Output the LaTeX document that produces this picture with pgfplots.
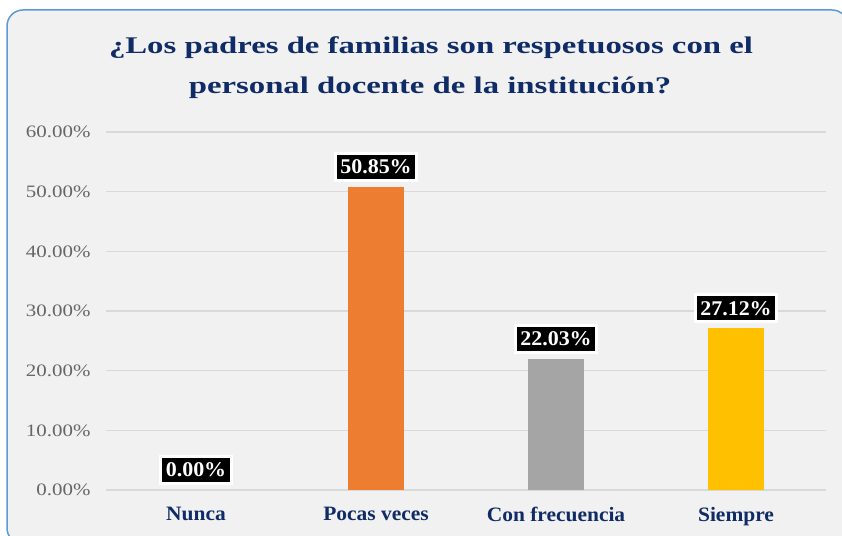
\documentclass[border=0pt]{standalone}
\usepackage{pgfplots}
\pgfplotsset{compat=1.18}
\usepackage{fontspec}
\setmainfont{Liberation Serif}
\newfontfamily\tickfont[FakeStretch=1.2]{Liberation Serif}
\newfontfamily\titlefont[FakeStretch=1.37]{Liberation Serif}
\newfontfamily\labfont[FakeStretch=1.05]{Liberation Serif}
\definecolor{navy}{HTML}{102C66}
\definecolor{bgc}{HTML}{F1F1F1}
\definecolor{framec}{HTML}{5B9BD5}
\definecolor{gridc}{HTML}{D9D9D9}
\definecolor{tickc}{HTML}{666666}
\definecolor{c2}{HTML}{ED7D31}
\definecolor{c3}{HTML}{A5A5A5}
\definecolor{c4}{HTML}{FFC000}
\begin{document}
\begin{tikzpicture}[x=1bp,y=1bp]
\useasboundingbox (0,0) rectangle (842,536);
\fill[white] (0,0) rectangle (842,536);
\begin{scope}
\clip (0,0) rectangle (842,536);
\draw[fill=bgc, draw=framec, line width=1.5bp, rounded corners=16bp] (7,-8) rectangle (848,526);
\end{scope}
\node[font=\titlefont\bfseries\fontsize{24}{24}\selectfont, text=navy, anchor=center] at (431,488) {¿Los padres de familias son respetuosos con el};
\node[font=\titlefont\bfseries\fontsize{24}{24}\selectfont, text=navy, anchor=center] at (430,448) {personal docente de la institución?};
\begin{axis}[
  at={(106bp,46bp)}, anchor=south west,
  scale only axis, width=720bp, height=358bp,
  xmin=-0.5, xmax=3.5, ymin=0, ymax=60,
  axis line style={draw=none},
  major tick length=0pt,
  ymajorgrids, grid style={gridc, line width=1.3bp},
  xtick={0,1,2,3},
  xticklabels={Nunca, Pocas veces, Con frecuencia, Siempre},
  xticklabel style={font=\labfont\bfseries\fontsize{20.5}{20.5}\selectfont, text=navy, anchor=north, yshift=-14bp},
  ytick={0,10,20,30,40,50,60},
  yticklabel={\pgfmathprintnumber[fixed,fixed zerofill,precision=2]{\tick}\%},
  /pgf/number format/assume math mode=true,
  yticklabel style={font=\tickfont\fontsize{17.5}{17.5}\selectfont, text=tickc, anchor=east, xshift=-12bp},
  nodes near coords={\pgfmathprintnumber[fixed,fixed zerofill,precision=2]{\pgfplotspointmeta}\%},
  every node near coord/.append style={fill=black, text=white, draw=white, line width=3bp,
     font=\labfont\bfseries\fontsize{21}{21}\selectfont, text height=14bp, text depth=0bp,
     inner xsep=5bp, inner ysep=6.5bp, anchor=south, yshift=5bp},
  clip=false,
]
\addplot[ybar, bar shift=0pt, bar width=56bp, fill=none, draw=none, every node near coord/.append style={yshift=0bp}] coordinates {(0,0)};
\addplot[ybar, bar shift=0pt, bar width=56bp, fill=c2, draw=none] coordinates {(1,50.85)};
\addplot[ybar, bar shift=0pt, bar width=56bp, fill=c3, draw=none] coordinates {(2,22.03)};
\addplot[ybar, bar shift=0pt, bar width=56bp, fill=c4, draw=none] coordinates {(3,27.12)};
\end{axis}
\end{tikzpicture}
\end{document}
